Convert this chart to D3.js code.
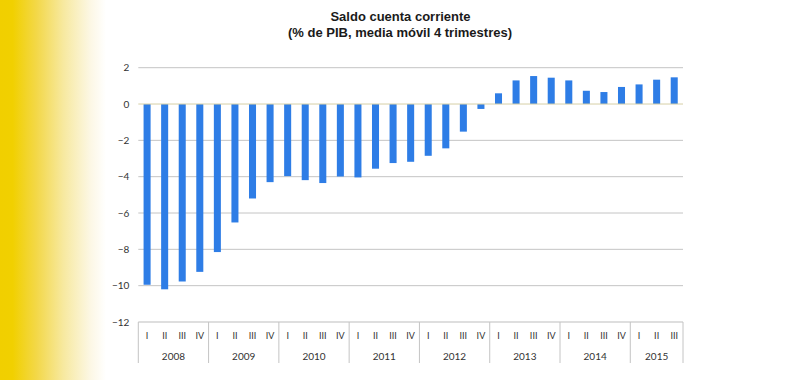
<!DOCTYPE html>
<html><head><meta charset="utf-8">
<script src="https://cdn.jsdelivr.net/npm/d3@7"></script>
<style>body{margin:0;background:#fff}svg{display:block}</style>
</head><body>
<script>
const years = ["2008","2009","2010","2011","2012","2013","2014","2015"];
const quarters = ["I","II","III","IV"];
const values = [
  -9.95,-10.2,-9.77,-9.24,
  -8.15,-6.52,-5.2,-4.3,
  -3.97,-4.19,-4.35,-3.99,
  -4.04,-3.56,-3.25,-3.18,
  -2.85,-2.44,-1.52,-0.27,
  0.59,1.3,1.54,1.45,
  1.3,0.73,0.66,0.94,
  1.08,1.34,1.47
];
const yTicks = [2,0,-2,-4,-6,-8,-10,-12];
const title1 = "Saldo cuenta corriente";
const title2 = "(% de PIB, media móvil 4 trimestres)";

const cats = values.map((v,i)=>({key: years[Math.floor(i/4)]+"-"+quarters[i%4], year: years[Math.floor(i/4)], q: quarters[i%4], v}));

const W=800,H=380;
const svg = d3.select("body").append("svg").attr("width",W).attr("height",H);
const defs = svg.append("defs");
const g = defs.append("linearGradient").attr("id","yg").attr("x1","0").attr("x2","1").attr("y1","0").attr("y2","0");
[[0,"#f1cf00"],[0.12,"#f1d000"],[0.35,"#f3d84a"],[0.6,"#f7e9a0"],[0.85,"#fcf7e4"],[1,"#ffffff"]].forEach(([o,c])=>g.append("stop").attr("offset",o).attr("stop-color",c));
svg.append("rect").attr("x",0).attr("y",0).attr("width",106).attr("height",H).attr("fill","url(#yg)");

const left=138.3, right=683;
const x = d3.scaleBand().domain(cats.map(d=>d.key)).range([left,right]).paddingInner(0.6).paddingOuter(0.3);
const y = d3.scaleLinear().domain([-12,2]).range([322,67.7]);

// gridlines
const grid = svg.append("g");
grid.selectAll("line").data(yTicks.filter(t=>t!==0 && t!==-12)).join("line")
  .attr("x1",left).attr("x2",right).attr("y1",d=>y(d)).attr("y2",d=>y(d))
  .attr("stroke","#c4c4c4").attr("stroke-width",1);

// y axis labels
const yAxis = d3.axisLeft(y).tickValues(yTicks).tickSize(0).tickPadding(0).tickFormat(d3.format("d"));
const ya = svg.append("g").attr("transform",`translate(${left-9},0)`).call(yAxis);
ya.select(".domain").remove();
ya.selectAll("text").attr("font-family","Lato, 'Open Sans', sans-serif").attr("font-size",10).attr("fill","#333").attr("dy","0.32em");

// bars
svg.append("g").selectAll("rect").data(cats).join("rect")
  .attr("x",d=>x(d.key)).attr("width",x.bandwidth())
  .attr("y",d=>y(Math.max(0,d.v))).attr("height",d=>Math.abs(y(d.v)-y(0)))
  .attr("fill","#2e7de6");

// zero line
svg.append("line").attr("x1",left).attr("x2",right).attr("y1",y(0)).attr("y2",y(0))
  .attr("stroke","#d6cfa6").attr("stroke-width",1);

// category axis box
const axisTop = y(-12), axisBot = 363;
svg.append("line").attr("x1",left).attr("x2",right).attr("y1",axisTop).attr("y2",axisTop).attr("stroke","#bdbdbd");
const step = x.step();
const yearGroups = d3.groups(cats, d=>d.year);
const yg = svg.append("g");
yearGroups.forEach(([yr, items], gi)=>{
  const startIdx = cats.indexOf(items[0]);
  const sx = left + startIdx*step;
  const ex = sx + items.length*step;
  yg.append("line").attr("x1",sx).attr("x2",sx).attr("y1",axisTop).attr("y2",axisBot).attr("stroke","#c4c4c4");
  if (gi===yearGroups.length-1) yg.append("line").attr("x1",ex).attr("x2",ex).attr("y1",axisTop).attr("y2",axisBot).attr("stroke","#c4c4c4");
  yg.append("text").attr("x",(sx+ex)/2).attr("y",360).attr("text-anchor","middle")
    .attr("font-family","Lato, 'Open Sans', sans-serif").attr("font-size",10).attr("fill","#333").text(yr);
});
svg.append("g").selectAll("text").data(cats).join("text")
  .attr("x",d=>x(d.key)+x.bandwidth()/2).attr("y",339).attr("text-anchor","middle")
  .attr("font-family","Lato, 'Open Sans', sans-serif").attr("font-size",9).attr("fill","#333").text(d=>d.q);

// titles
svg.append("text").attr("x",400.5).attr("y",21).attr("text-anchor","middle")
  .attr("font-family","'Liberation Sans', Arial, sans-serif").attr("font-weight","bold").attr("font-size",13).attr("fill","#1a1a1a").text(title1);
svg.append("text").attr("x",400).attr("y",37).attr("text-anchor","middle")
  .attr("font-family","'Liberation Sans', Arial, sans-serif").attr("font-weight","bold").attr("font-size",13).attr("fill","#1a1a1a").text(title2);
</script>
</body></html>
